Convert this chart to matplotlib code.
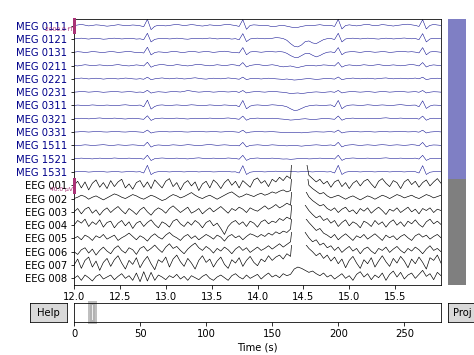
import numpy as np
import matplotlib
matplotlib.use("Agg")
import matplotlib.pyplot as plt
from matplotlib.patches import Rectangle

# ─── Data ─────────────────────────────────────────────────────────────
T_START, T_STOP = 12.0, 16.0          # visible window (s)
RECORD_LEN = 277.7                    # full recording length (s)
TIME_TICKS = [12.0, 12.5, 13.0, 13.5, 14.0, 14.5, 15.0, 15.5]
SCROLL_TICKS = [0, 50, 100, 150, 200, 250]

MEG_NAMES = ["MEG 0111", "MEG 0121", "MEG 0131", "MEG 0211", "MEG 0221",
             "MEG 0231", "MEG 0311", "MEG 0321", "MEG 0331", "MEG 1511",
             "MEG 1521", "MEG 1531"]
EEG_NAMES = ["EEG 001", "EEG 002", "EEG 003", "EEG 004", "EEG 005",
             "EEG 006", "EEG 007", "EEG 008"]

MEG_SCALE_FT = 2000.0   # one trace spacing
EEG_SCALE_UV = 40.0

# magnetometers, fT, sampled every 40 ms from 12.00 s to 16.00 s
MEG_0111 = [0, 100, 180, 80, -40, 40, 120, 80, 0, -80,
            -20, 60, 140, 80, 0, 40, 100, 60, -20, -150,
            950, -600, -100, 60, 20, -40, 40, 120, 180, 100,
            20, 80, 160, 100, 0, -60, 20, 120, 60, -20,
            60, 140, 200, 100, 20, -120, 900, -550, 40, 120,
            80, 20, 60, -20, -160, -100, 0, 40, -80, -200,
            -300, -260, -120, -20, 40, 0, 80, 140, 60, 0,
            40, -120, 950, -500, 20, 120, 40, -40, 40, 140,
            200, 80, 0, 60, 160, 100, 20, -60, 40, 100,
            180, 220, 120, 40, -120, 900, -500, 40, 180, 100,
            40]
MEG_0121 = [0, 60, 120, 40, -20, 60, 100, 40, -40, 0,
            80, 120, 60, 0, 40, 100, 60, -20, 20, -100,
            850, -450, -60, 40, 100, 60, 0, 40, 120, 80,
            0, -40, 40, 100, 60, 20, 80, 140, 80, 0,
            40, 100, 60, -20, 40, -120, 800, -400, 0, 80,
            120, 60, 20, 80, 100, 200, 160, 60, -200, -700,
            -1100, -1200, -900, -400, -300, -600, -700, -400, -100, 40,
            60, -80, 850, -450, 0, 80, 120, 60, 0, 60,
            120, 80, 20, -20, 60, 120, 80, 0, 40, 100,
            140, 80, 20, 60, -100, 800, -450, 0, 100, 60,
            20]
MEG_0131 = [0, 80, 40, -40, 20, 100, 60, 0, -40, 40,
            100, 60, -20, 20, 80, 120, 40, -40, 0, -120,
            750, -400, -40, 60, 20, -40, 40, 120, 80, 0,
            -20, 60, 140, 80, 0, 60, 120, 60, -20, 40,
            100, 160, 80, 0, -40, -100, 700, -380, 40, 100,
            60, 0, 60, 120, 80, 40, 100, 40, -160, -500,
            -750, -800, -500, -200, -150, -450, -700, -500, -200, 0,
            60, -60, 700, -380, 0, 60, 100, 40, -20, 60,
            120, 60, 0, 40, 100, 60, -20, 20, 80, 140,
            100, 40, 80, 20, -100, 700, -380, 40, 100, 60,
            0]
MEG_0211 = [0, -60, 40, 120, 60, -20, 40, 100, 40, -40,
            0, 80, 140, 60, -20, -60, 20, 100, 40, -60,
            500, -250, 0, 100, 160, 80, -20, 40, 140, 80,
            0, -60, 20, 120, 180, 100, 20, -40, 40, 120,
            60, -20, 60, 140, 80, -60, 450, -220, 20, 100,
            160, 80, 0, 60, 120, 40, -100, -200, -120, -60,
            -200, -300, -160, -40, 40, 0, -60, 20, 100, 60,
            0, -60, 480, -240, 20, 100, 40, -40, 40, 120,
            60, 0, 80, 140, 60, -20, 40, 100, 40, -40,
            20, 100, 160, 80, -60, 450, -220, 20, 100, 40,
            0]
MEG_0221 = [0, 60, 120, 60, -20, 40, 100, 40, -40, 20,
            80, 40, -20, 40, 120, 80, 0, -40, 20, -60,
            250, -120, 0, 80, 140, 60, 0, 60, 120, 60,
            -20, 20, 100, 160, 80, 0, -40, 40, 100, 60,
            0, 60, 140, 80, 20, -60, 260, -120, 20, 80,
            40, -20, 40, 100, 60, 0, -40, -80, -20, -100,
            -180, -140, -60, 0, 40, -20, -80, -40, 20, 60,
            20, -40, 280, -120, 0, 60, 120, 60, 0, 40,
            100, 60, -20, 40, 100, 140, 60, 0, 40, 100,
            60, 0, 60, 120, 0, 250, -120, 0, 60, 100,
            40]
MEG_0231 = [0, 40, 100, 60, 0, 40, 80, 40, -20, 20,
            60, 100, 60, 0, 40, 80, 40, -20, 20, -40,
            280, -140, 0, 60, 20, -20, 40, 100, 60, 20,
            120, 240, 160, 60, 0, 40, 100, 60, 0, 40,
            100, 60, 20, 60, 100, -40, 250, -120, 0, 60,
            100, 40, 0, 60, 120, 80, 20, -20, -100, -200,
            -160, -120, -200, -140, -60, 0, 40, 0, -40, 20,
            60, -20, 260, -120, 0, 60, 100, 40, 0, 40,
            80, 40, -20, 40, 100, 60, 0, 40, 80, 120,
            60, 0, 40, 80, -20, 250, -120, 0, 60, 40,
            0]
MEG_0311 = [0, 60, 20, -40, 20, 80, 40, -20, 20, 60,
            20, -40, 0, 60, 100, 40, -20, 20, 60, -200,
            800, -550, -150, 40, 80, 20, -20, 40, 80, 40,
            0, 40, 100, 60, 0, -40, 20, 80, 40, -20,
            20, 80, 40, 0, 40, -200, 750, -500, -100, 40,
            80, 40, 0, 40, 100, 60, 0, -60, -200, -500,
            -750, -700, -450, -200, -60, 20, 60, 20, -20, 40,
            80, -200, 750, -500, -100, 40, 80, 40, 0, 40,
            100, 60, 0, 40, 80, 40, -20, 20, 80, 120,
            60, 0, 40, 60, -200, 700, -450, -80, 60, 40,
            0]
MEG_0321 = [0, 40, 80, 40, -20, 20, 80, 120, 60, 0,
            40, 100, 60, 0, -40, 20, 80, 40, -20, -80,
            450, -250, 0, 60, 100, 60, 20, 60, 100, 60,
            0, -40, 20, 80, 40, 0, 40, 100, 60, 0,
            20, 80, 120, 60, 0, -80, 400, -220, 20, 60,
            100, 60, 0, 40, 80, 40, -20, -60, -120, -200,
            -160, -100, -40, 0, -60, -120, -80, -20, 40, 20,
            -20, -80, 420, -220, 0, 60, 100, 40, 0, 40,
            80, 40, 0, 40, 100, 140, 80, 20, 60, 100,
            60, 0, 40, 80, -60, 400, -220, 20, 80, 40,
            0]
MEG_0331 = [0, 20, 60, 40, 0, 40, 80, 60, 20, 0,
            40, 80, 60, 20, 0, 40, 80, 40, 0, -40,
            300, -150, 0, 40, 80, 60, 20, 40, 80, 60,
            20, 0, 40, 80, 100, 60, 20, 40, 80, 40,
            0, 40, 80, 60, 20, -40, 280, -140, 0, 40,
            80, 60, 20, 40, 60, 20, -20, -60, -100, -80,
            -40, -80, -120, -80, -20, 20, 40, 20, 0, 40,
            60, -20, 300, -140, 0, 40, 80, 60, 20, 40,
            80, 40, 0, 40, 80, 60, 20, 40, 80, 100,
            60, 20, 40, 60, -20, 280, -140, 0, 40, 60,
            20]
MEG_1511 = [0, -40, 20, 80, 40, -20, 20, 60, 100, 40,
            -20, 20, 80, 40, 0, 40, 80, 40, -20, -80,
            480, -260, 0, 60, 20, -40, 20, 80, 40, 0,
            40, 100, 60, 0, -40, 20, 80, 120, 60, 0,
            40, 80, 40, -20, 20, -80, 450, -240, 0, 40,
            80, 40, -20, 20, 80, 40, 0, -40, -80, -40,
            0, -60, -120, -60, 0, 40, 80, 40, -20, 20,
            60, -60, 460, -240, 0, 60, 100, 40, -20, 40,
            80, 40, 0, 60, 100, 60, 0, 40, 80, 40,
            0, 40, 100, 60, -60, 440, -240, 0, 60, 40,
            0]
MEG_1521 = [0, 40, 80, 40, 0, -40, 20, 80, 40, 0,
            40, 100, 60, 0, 40, 80, 40, -20, 20, -80,
            520, -280, 0, 60, 100, 60, 0, 40, 80, 40,
            0, -40, 20, 80, 120, 60, 0, 40, 80, 40,
            0, 40, 100, 60, 20, -80, 500, -260, 0, 60,
            100, 40, 0, 40, 80, 40, -20, -60, -40, -100,
            -60, 0, 40, 20, -40, -20, 40, 80, 40, 0,
            40, -60, 520, -260, 0, 60, 100, 60, 0, 40,
            80, 40, 0, 40, 80, 120, 60, 0, 40, 80,
            40, 0, 40, 80, -60, 500, -260, 0, 60, 40,
            0]
MEG_1531 = [0, 40, 80, 40, -20, 20, 60, 100, 40, -20,
            20, 60, 40, -20, 20, 80, 40, 0, 40, -160,
            1000, -400, -60, 40, 80, 40, 0, 40, 80, 40,
            0, 40, 100, 60, 0, 40, 80, 40, 0, 20,
            60, 100, 60, 0, 20, -160, 950, -380, -40, 40,
            80, 40, 0, 40, 80, 120, 60, 20, 60, 100,
            60, 0, 40, 80, 40, 0, 40, 80, 40, 0,
            40, -160, 1000, -380, -40, 60, 100, 40, 0, 40,
            80, 40, 0, 40, 100, 60, 0, 40, 80, 40,
            0, 40, 80, 40, -160, 950, -380, -40, 40, 60,
            20]

# EEG, µV, same sampling (eye blink near 14.4 s)
EEG_001 = [0, 12, -8, 10, -14, 6, 16, -6, 8, -10,
           14, -4, 10, 18, -8, 4, -12, 8, 14, -6,
           10, -10, 16, 4, -8, 12, 20, -4, 8, -14,
           6, 14, -2, 10, -16, 4, 12, -8, 16, 6,
           -10, 8, 18, 0, 12, -8, 14, 4, -6, 16,
           22, 6, 14, -4, 18, 10, 24, 14, 28, 20,
           180, 230, 200, 90, 30, 20, 10, 18, 4, 12,
           -6, 10, 16, -4, 8, -10, 6, 14, -2, 12,
           18, 4, -8, 12, 20, 6, -4, 14, 8, -10,
           10, 18, 2, 12, -6, 8, 16, -2, 10, 20,
           6]
EEG_002 = [0, 4, 10, 6, -2, 4, 8, 2, -4, 2,
           8, 14, 10, 4, 0, 6, 12, 8, 2, -2,
           4, 10, 6, 0, -6, -2, 6, 12, 8, 2,
           6, 12, 18, 10, 4, 0, 6, 10, 4, -2,
           4, 10, 16, 20, 12, 4, 8, 14, 10, 6,
           12, 16, 10, 14, 20, 16, 22, 26, 20, 24,
           160, 210, 190, 110, 40, 30, 22, 14, 18, 8,
           2, 6, 10, 4, -2, 4, 8, 2, -4, 2,
           8, 4, -2, 4, 10, 6, 0, 6, 12, 8,
           2, 6, 10, 4, 0, 6, 12, 8, 2, 6,
           10]
EEG_003 = [0, 10, -6, 8, 14, -4, 6, -10, 4, 12,
           -2, 8, 16, 4, -6, 10, 2, -8, 6, 14,
           0, -10, 4, 12, 6, -4, 10, 18, 8, -2,
           6, 14, -4, 2, 10, -6, 4, 12, 0, 8,
           16, 6, -4, 10, 4, 14, 8, -2, 12, 6,
           2, 10, 18, 8, 14, 22, 12, 18, 26, 20,
           150, 200, 170, 65, 45, 34, 26, 18, 22, 10,
           4, 12, -2, 8, 14, 0, 6, -6, 10, 2,
           12, -4, 6, 14, 4, -8, 8, 2, 12, -2,
           6, 14, 0, 8, -6, 10, 4, 12, -2, 8,
           4]
EEG_004 = [0, 14, 6, 18, -4, 10, 2, 16, -6, 8,
           12, -8, 6, 14, -2, 10, -10, 6, 12, -4,
           8, 16, 2, -8, 10, 4, -6, 12, 18, 4,
           -4, 10, 0, 14, 6, -8, 8, 14, -2, 6,
           -10, -28, -4, 8, 14, 2, 10, -4, 12, 6,
           -6, 10, 16, 4, 12, 8, 20, 14, 24, 18,
           150, 210, 180, 60, 44, 32, 22, 28, 14, 20,
           6, 14, -4, 8, 16, -2, 10, 4, -8, 12,
           6, -4, 14, 2, 10, -6, 8, 16, 0, 10,
           -4, 12, 4, 16, 2, -6, 10, 18, 4, 12,
           2]
EEG_005 = [0, 6, -4, 10, 4, -6, 8, 2, 12, -2,
           4, 10, -6, 2, 8, 16, 6, -4, 8, 2,
           -8, 6, 14, 4, -2, 10, 18, 8, 2, -6,
           6, 12, 0, 8, -4, 4, 12, 6, -2, 10,
           4, -8, 6, 12, 2, 8, -4, 6, 14, 10,
           4, 12, 6, 16, 10, 20, 14, 22, 18, 28,
           140, 190, 170, 62, 48, 36, 24, 30, 16, 10,
           2, 12, -4, 6, 14, 4, -6, 8, 2, 12,
           -2, 6, 14, 4, -6, 10, 2, 8, -4, 6,
           12, 2, -6, 8, 14, 4, 10, -2, 6, 12,
           2]
EEG_006 = [0, -8, 6, 12, -4, 8, -10, 4, 14, 2,
           -6, 10, 18, 4, -4, 12, 6, -8, 10, 16,
           2, 10, 20, 8, -2, 14, 24, 10, 16, 4,
           -6, 8, 18, 26, 12, 4, 16, 8, -4, 10,
           2, 14, 6, -6, 8, 16, 4, 12, -2, 6,
           14, 4, 10, 18, 8, 16, 24, 14, 22, 30,
           130, 180, 150, 58, 42, 30, 36, 20, 26, 12,
           18, 4, 14, -2, 8, 16, 2, 10, -6, 8,
           14, 2, -6, 10, 4, 14, -2, 8, 16, 4,
           -4, 10, 2, 14, 6, -6, 8, 18, 4, 10,
           0]
EEG_007 = [0, 18, -10, 14, 24, -6, 12, -16, 8, 20,
           -4, 16, 28, 6, -12, 14, 2, 22, -8, 12,
           26, 4, -14, 16, 8, 24, -6, 18, 30, 10,
           -4, 20, 6, -12, 14, 28, 8, 18, -6, 12,
           24, 2, -10, 16, 6, 22, -4, 14, 26, 8,
           -2, 18, 10, 28, 14, 24, 30, 18, 34, 26,
           150, 200, 170, 64, 50, 40, 28, 36, 20, 30,
           12, 24, 4, 18, -8, 14, 26, 6, -10, 16,
           4, 22, -6, 12, 28, 10, -4, 20, 6, 26,
           12, -8, 18, 4, 24, 8, -12, 22, 14, 30,
           6]
EEG_008 = [0, 8, -6, 10, 2, -8, 6, 12, -2, 4,
           10, -4, 6, 14, 0, 8, -6, 16, -10, 20,
           -8, 18, -6, 10, 4, -4, 8, 2, 12, -2,
           6, -6, 8, 2, -4, 6, 12, 0, -6, 4,
           10, 2, -6, 8, 14, 4, -2, 10, 0, 6,
           12, -2, 8, 16, 4, 10, 2, 14, 8, 12,
           28, 34, 30, 24, 18, 22, 14, 8, 16, 4,
           10, -2, 6, 14, 0, 8, -6, 12, 20, 4,
           14, -4, 10, 2, 16, -6, 12, 22, 4, 18,
           -2, 10, 16, 0, 12, 24, 6, 14, -4, 18,
           8]

MEG_DATA = [MEG_0111, MEG_0121, MEG_0131, MEG_0211, MEG_0221, MEG_0231,
            MEG_0311, MEG_0321, MEG_0331, MEG_1511, MEG_1521, MEG_1531]
EEG_DATA = [EEG_001, EEG_002, EEG_003, EEG_004, EEG_005, EEG_006,
            EEG_007, EEG_008]

# ─── Styling ──────────────────────────────────────────────────────────
MEG_COLOR = "darkblue"
EEG_COLOR = "k"
MEG_LW, EEG_LW = 0.5, 0.65
SCALEBAR_COLOR = "#AA3377"
CLIP = 1.5
DPI = 72
W, H = 474, 355


def main():
    names = MEG_NAMES + EEG_NAMES
    traces = ([np.asarray(d) / MEG_SCALE_FT for d in MEG_DATA] +
              [np.asarray(d) / EEG_SCALE_UV for d in EEG_DATA])
    colors = [MEG_COLOR] * len(MEG_NAMES) + [EEG_COLOR] * len(EEG_NAMES)
    widths = [MEG_LW] * len(MEG_NAMES) + [EEG_LW] * len(EEG_NAMES)
    t = np.linspace(T_START, T_STOP, len(MEG_0111))
    n = len(names)
    offsets = np.arange(n)

    fig = plt.figure(figsize=(W / DPI, H / DPI), dpi=DPI)
    ax = fig.add_axes([74 / W, 1 - 285 / H, 367 / W, 266 / H])
    ax_vsb = fig.add_axes([448 / W, 1 - 285 / H, 18 / W, 266 / H])
    ax_hsb = fig.add_axes([74 / W, 1 - 322 / H, 367 / W, 19 / H])
    ax_help = fig.add_axes([30 / W, 1 - 322 / H, 37 / W, 19 / H])
    ax_proj = fig.add_axes([448 / W, 1 - 322 / H, 29 / W, 19 / H])

    # main traces, each clipped at +/- 1.5 spacings around its offset
    for off, y, c, lw in zip(offsets, traces, colors, widths):
        line, = ax.plot(t, off - y, color=c, lw=lw, zorder=2)
        clip = Rectangle((T_START, off - CLIP), T_STOP - T_START, 2 * CLIP,
                         transform=ax.transData)
        line.set_clip_path(clip)

    ax.set_xlim(T_START, T_STOP)
    ax.set_ylim(n - 0.5, -0.5)
    ax.set_xticks(TIME_TICKS)
    ax.set_xticklabels([f"{v:.1f}" for v in TIME_TICKS])
    ax.set_yticks(offsets)
    ax.set_yticklabels(names)
    for lab, c in zip(ax.get_yticklabels(), colors):
        lab.set_color(c)

    # scale bars
    first_eeg = len(MEG_NAMES)
    for off, label in [(0, f"{MEG_SCALE_FT:.1f} fT"),
                       (first_eeg, f"{EEG_SCALE_UV:.1f} µV")]:
        ax.plot([T_START, T_START], [off - 0.5, off + 0.5],
                color=SCALEBAR_COLOR, lw=3, clip_on=False, zorder=5)
        ax.text(T_START - 0.01, off + 0.3, label, color=SCALEBAR_COLOR,
                fontsize=6, ha="right", va="center", zorder=5)

    # channel scrollbar
    n_meg, n_eeg = len(MEG_NAMES), len(EEG_NAMES)
    ax_vsb.bar([0.5, 0.5], [n_meg, n_eeg], bottom=[-0.5, n_meg - 0.5],
               width=1, color=[MEG_COLOR, EEG_COLOR], alpha=0.5, lw=0)
    ax_vsb.set_xlim(0, 1)
    ax_vsb.set_ylim(n - 0.5, -0.5)
    ax_vsb.axis("off")

    # time scrollbar
    ax_hsb.add_patch(Rectangle((T_START, 0), T_STOP - T_START, 1,
                               edgecolor="k", facecolor=(0.75, 0.75, 0.75),
                               alpha=0.25, lw=4, clip_on=False))
    ax_hsb.set_xlim(0, RECORD_LEN)
    ax_hsb.set_ylim(0, 1)
    ax_hsb.set_yticks([])
    ax_hsb.set_xticks(SCROLL_TICKS)
    ax_hsb.set_xlabel("Time (s)")

    # buttons
    for b, txt in [(ax_help, "Help"), (ax_proj, "Proj")]:
        b.set_facecolor("0.85")
        b.set_xticks([])
        b.set_yticks([])
        b.text(0.5, 0.5, txt, ha="center", va="center", transform=b.transAxes)

    fig.savefig("out.png", dpi=DPI)
    plt.close(fig)


if __name__ == "__main__":
    main()
